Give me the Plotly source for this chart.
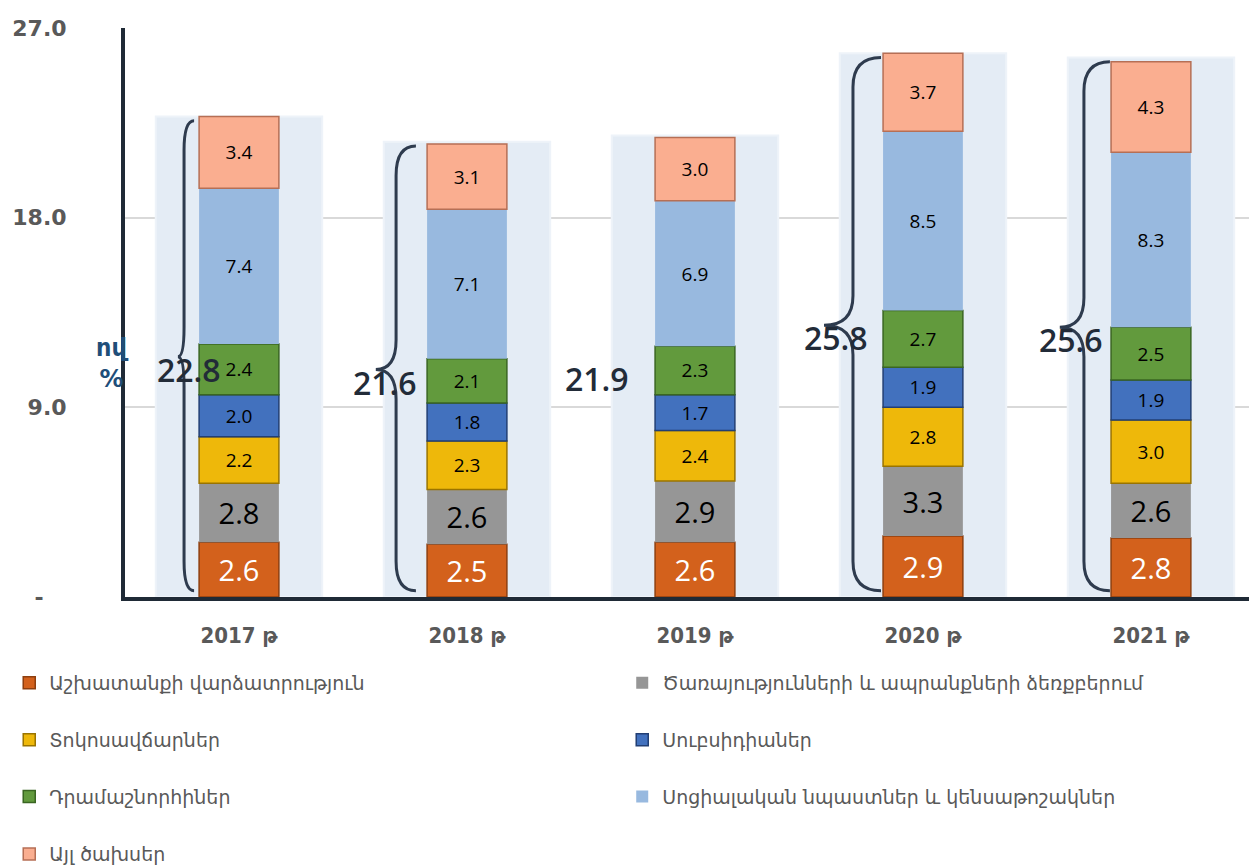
import plotly.graph_objects as go
import numpy as np

# ---------------- data ----------------
years = ["2017 թ", "2018 թ", "2019 թ", "2020 թ", "2021 թ"]
series_names = [
    "Աշխատանքի վարձատրություն",
    "Ծառայությունների և ապրանքների ձեռքբերում",
    "Տոկոսավճարներ",
    "Սուբսիդիաներ",
    "Դրամաշնորհիներ",
    "Սոցիալական նպաստներ և կենսաթոշակներ",
    "Այլ ծախսեր",
]
labor = [2.6, 2.5, 2.6, 2.9, 2.8]
goods_services = [2.8, 2.6, 2.9, 3.3, 2.6]
interest = [2.2, 2.3, 2.4, 2.8, 3.0]
subsidies = [2.0, 1.8, 1.7, 1.9, 1.9]
grants = [2.4, 2.1, 2.3, 2.7, 2.5]
social = [7.4, 7.1, 6.9, 8.5, 8.3]
other = [3.4, 3.1, 3.0, 3.7, 4.3]
totals = [22.8, 21.6, 21.9, 25.8, 25.6]
has_brace = [True, True, False, True, True]
y_tickvals = [0, 9, 18, 27]
y_ticktext = ["-\u00a0\u00a0\u00a0", "9.0", "18.0", "27.0"]
y_title = "ով<br>%"

# ---------------- styles ----------------
fill_colors = ["#D3611C", "#969696", "#EEB80A", "#4271BE", "#629A3D", "#98B9DF", "#FAAE90"]
edge_colors = ["#8E3F0F", "#969696", "#9A7400", "#223F74", "#3A6622", "#98B9DF", "#B66F55"]
edge_widths = [1.5, 0, 1.5, 1.5, 1.5, 0, 1.5]
text_colors = ["white", "black", "black", "black", "black", "black", "black"]
text_sizes = [29, 29, 19, 19, 19, 19, 19]
# brace geometry offsets (x units relative to bar centre): end, spine, tip
brace_end = [-0.197, -0.224, 0, -0.184, -0.18]
brace_spine = [-0.241, -0.311, 0, -0.307, -0.294]
brace_tip = [-0.268, -0.40, 0, -0.434, -0.40]
total_label_dx = [-0.22, -0.36, -0.43, -0.38, -0.35]

series_values = [labor, goods_services, interest, subsidies, grants, social, other]
x = np.arange(len(years))

fig = go.Figure()

# background (total) bars
fig.add_trace(go.Bar(
    x=x, y=totals, width=0.73,
    marker=dict(color="#E4ECF5", line=dict(color="#EEF3F9", width=2)),
    showlegend=False, hoverinfo="skip",
))

base = np.zeros(len(years))
legend_ids = ["legend", "legend", "legend2", "legend2", "legend3", "legend3", "legend4"]
for i, (name, vals) in enumerate(zip(series_names, series_values)):
    vals = np.array(vals, dtype=float)
    fig.add_trace(go.Bar(
        x=x, y=vals, base=base.copy(), name=name, width=0.35,
        marker=dict(color=fill_colors[i], line=dict(color=edge_colors[i], width=edge_widths[i])),
        texttemplate="%{y:.1f}", textposition="inside", insidetextanchor="middle",
        textangle=0, constraintext="none",
        textfont=dict(family="Open Sans, DejaVu Sans", size=text_sizes[i], color=text_colors[i]),
        legend=legend_ids[i],
    ))
    base = base + vals

shapes = []
annotations = []
for i, tot in enumerate(totals):
    if has_brace[i]:
        xe = i + brace_end[i]
        xs = i + brace_spine[i]
        xt = i + brace_tip[i]
        top = tot - 0.2
        bot = 0.3
        mid = tot / 2
        r = 1.4
        path = (f"M {xe},{top} Q {xs},{top} {xs},{top - r} "
                f"L {xs},{mid + r} Q {xs},{mid} {xt},{mid} "
                f"Q {xs},{mid} {xs},{mid - r} "
                f"L {xs},{bot + r} Q {xs},{bot} {xe},{bot}")
        shapes.append(dict(type="path", path=path, xref="x", yref="y",
                           line=dict(color="#2E3B4E", width=3), layer="above"))
    annotations.append(dict(
        x=i + total_label_dx[i], y=tot / 2 - 0.6, xref="x", yref="y",
        text=f"{tot:.1f}", showarrow=False,
        font=dict(family="Open Sans, DejaVu Sans", size=32, color="#222B38", weight=600),
    ))

annotations.append(dict(
    x=-0.012, y=11.1, xref="paper", yref="y", text=y_title, showarrow=False,
    font=dict(family="DejaVu Sans", size=24, color="#1F4E79", weight="bold"),
    xanchor="center", yanchor="middle",
))

legend_common = dict(
    orientation="h", xanchor="left", yanchor="middle",
    font=dict(family="DejaVu Sans", size=19, color="#595959"),
    bgcolor="rgba(0,0,0,0)", entrywidth=568, entrywidthmode="pixels",
    traceorder="normal",
)
leg_x = -0.103
fig.update_layout(
    width=1249, height=866,
    margin=dict(l=125, r=0, t=28, b=269, autoexpand=False),
    paper_bgcolor="white", plot_bgcolor="white",
    barmode="overlay",
    xaxis=dict(
        range=[-0.5, 4.43], tickvals=list(x), ticktext=years,
        showgrid=False, zeroline=False, showline=True,
        linecolor="#1F2A36", linewidth=4, ticks="",
        tickfont=dict(family="DejaVu Sans Condensed, DejaVu Sans", size=22, color="#595959", weight="bold"),
        ticklabelstandoff=16, automargin=False,
    ),
    yaxis=dict(
        range=[0, 27], tickvals=y_tickvals, ticktext=y_ticktext,
        showgrid=True, gridcolor="#D9D9D9", gridwidth=1.5,
        zeroline=False, showline=True, linecolor="#1F2A36", linewidth=4, ticks="",
        tickfont=dict(family="DejaVu Sans", size=22, color="#595959", weight="bold"),
        ticklabelstandoff=50, automargin=False,
    ),
    legend=dict(x=leg_x, y=-0.151, **legend_common),
    legend2=dict(x=leg_x, y=-0.251, **legend_common),
    legend3=dict(x=leg_x, y=-0.351, **legend_common),
    legend4=dict(x=leg_x, y=-0.452, **legend_common),
    shapes=shapes,
    annotations=annotations,
)

fig.write_html("out.html", config={"displayModeBar": False},
               post_script="document.body.style.margin='0';")
